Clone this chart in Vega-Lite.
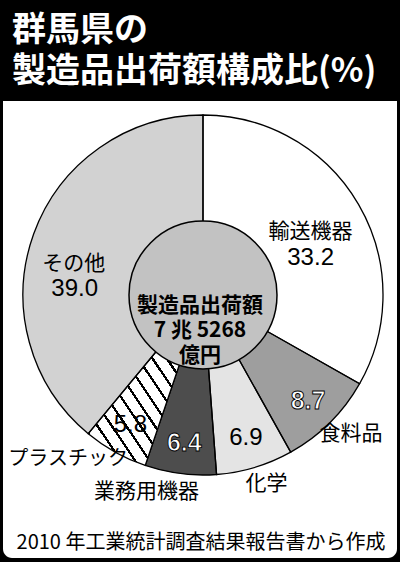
{
  "$schema": "https://vega.github.io/schema/vega-lite/v6.json",
  "autosize": "none",
  "width": 394,
  "height": 457,
  "padding": {"left": 3, "top": 101, "right": 3, "bottom": 4},
  "background": "black",
  "config": {
    "view": {"stroke": null},
    "text": {"font": "Noto Sans CJK JP"}
  },
  "title": {
    "text": ["群馬県の", "製造品出荷額構成比(%)"],
    "anchor": "start",
    "frame": "group",
    "color": "white",
    "font": "Noto Sans CJK JP",
    "fontSize": 34,
    "fontWeight": "bold",
    "lineHeight": 41,
    "offset": 12,
    "dx": 9
  },
  "data": {
    "values": [
      {"name": "輸送機器", "value": 33.2, "o": 1},
      {"name": "食料品", "value": 8.7, "o": 2},
      {"name": "化学", "value": 6.9, "o": 3},
      {"name": "業務用機器", "value": 6.4, "o": 4},
      {"name": "プラスチック", "value": 5.8, "o": 5},
      {"name": "その他", "value": 39.0, "o": 6}
    ]
  },
  "layer": [
    {
      "data": {"values": [{"panel": "panel"}]},
      "mark": {"type": "rect", "fill": "white", "cornerRadiusBottomLeft": 9, "cornerRadiusBottomRight": 9},
      "encoding": {}
    },
    {
      "mark": {"type": "arc", "outerRadius": 180, "xOffset": 3, "yOffset": -34.5},
      "encoding": {
        "theta": {"field": "value", "type": "quantitative", "stack": true},
        "order": {"field": "o", "type": "quantitative"},
        "color": {
          "field": "name",
          "type": "nominal",
          "scale": {
            "domain": ["輸送機器", "食料品", "化学", "業務用機器", "プラスチック", "その他"],
            "range": ["#ffffff", "#9e9e9e", "#e4e4e4", "#4d4d4d", "#ffffff", "#d2d2d2"]
          },
          "legend": null
        }
      }
    },
    {
      "mark": {
        "type": "arc",
        "outerRadius": 180,
        "xOffset": 3,
        "yOffset": -34.5,
        "stroke": "black",
        "strokeWidth": 1.3,
        "fill": {
          "gradient": "linear",
          "x1": 0, "y1": 1, "x2": 1, "y2": 0,
          "stops": [
            {"offset": 0, "color": "white"},
            {"offset": 0.025, "color": "white"}, {"offset": 0.025, "color": "black"}, {"offset": 0.037, "color": "black"}, {"offset": 0.037, "color": "white"},
            {"offset": 0.0875, "color": "white"}, {"offset": 0.0875, "color": "black"}, {"offset": 0.0995, "color": "black"}, {"offset": 0.0995, "color": "white"},
            {"offset": 0.15, "color": "white"}, {"offset": 0.15, "color": "black"}, {"offset": 0.162, "color": "black"}, {"offset": 0.162, "color": "white"},
            {"offset": 0.2125, "color": "white"}, {"offset": 0.2125, "color": "black"}, {"offset": 0.2245, "color": "black"}, {"offset": 0.2245, "color": "white"},
            {"offset": 0.275, "color": "white"}, {"offset": 0.275, "color": "black"}, {"offset": 0.287, "color": "black"}, {"offset": 0.287, "color": "white"},
            {"offset": 0.3375, "color": "white"}, {"offset": 0.3375, "color": "black"}, {"offset": 0.3495, "color": "black"}, {"offset": 0.3495, "color": "white"},
            {"offset": 0.4, "color": "white"}, {"offset": 0.4, "color": "black"}, {"offset": 0.412, "color": "black"}, {"offset": 0.412, "color": "white"},
            {"offset": 0.4625, "color": "white"}, {"offset": 0.4625, "color": "black"}, {"offset": 0.4745, "color": "black"}, {"offset": 0.4745, "color": "white"},
            {"offset": 0.525, "color": "white"}, {"offset": 0.525, "color": "black"}, {"offset": 0.537, "color": "black"}, {"offset": 0.537, "color": "white"},
            {"offset": 0.5875, "color": "white"}, {"offset": 0.5875, "color": "black"}, {"offset": 0.5995, "color": "black"}, {"offset": 0.5995, "color": "white"},
            {"offset": 0.65, "color": "white"}, {"offset": 0.65, "color": "black"}, {"offset": 0.662, "color": "black"}, {"offset": 0.662, "color": "white"},
            {"offset": 0.7125, "color": "white"}, {"offset": 0.7125, "color": "black"}, {"offset": 0.7245, "color": "black"}, {"offset": 0.7245, "color": "white"},
            {"offset": 0.775, "color": "white"}, {"offset": 0.775, "color": "black"}, {"offset": 0.787, "color": "black"}, {"offset": 0.787, "color": "white"},
            {"offset": 0.8375, "color": "white"}, {"offset": 0.8375, "color": "black"}, {"offset": 0.8495, "color": "black"}, {"offset": 0.8495, "color": "white"},
            {"offset": 0.9, "color": "white"}, {"offset": 0.9, "color": "black"}, {"offset": 0.912, "color": "black"}, {"offset": 0.912, "color": "white"},
            {"offset": 0.9625, "color": "white"}, {"offset": 0.9625, "color": "black"}, {"offset": 0.9745, "color": "black"}, {"offset": 0.9745, "color": "white"},
            {"offset": 1, "color": "white"}
          ]
        }
      },
      "encoding": {
        "theta": {"field": "value", "type": "quantitative", "stack": true},
        "order": {"field": "o", "type": "quantitative"},
        "fillOpacity": {"condition": {"test": "datum.name === 'プラスチック'", "value": 1}, "value": 0}
      }
    },
    {
      "data": {"values": [{"total": "製造品出荷額\n7 兆 5268\n億円"}]},
      "mark": {"type": "arc", "outerRadius": 74, "xOffset": 3, "yOffset": -34.5, "fill": "#c2c2c2", "stroke": "black", "strokeWidth": 1.5},
      "encoding": {}
    },
    {
      "data": {"values": [{"total": "製造品出荷額\n7 兆 5268\n億円"}]},
      "mark": {"type": "text", "xOffset": 3, "yOffset": -34.5, "dx": -3, "dy": 11, "lineBreak": "\n", "fontSize": 21, "fontWeight": "bold", "lineHeight": 25, "baseline": "middle", "align": "center", "color": "black"},
      "encoding": {"text": {"field": "total", "type": "nominal"}}
    },
    {
      "mark": {"type": "text", "radius": 149, "xOffset": 3, "yOffset": -34.5, "fontSize": 24, "font": "Liberation Sans", "baseline": "middle", "color": "black"},
      "encoding": {
        "theta": {"field": "value", "type": "quantitative", "stack": true},
        "order": {"field": "o", "type": "quantitative"},
        "text": {"condition": {"test": "datum.name === '化学' || datum.name === 'プラスチック'", "field": "value", "type": "quantitative", "format": ".1f"}, "value": ""}
      }
    },
    {
      "mark": {"type": "text", "radius": 149, "xOffset": 3, "yOffset": -34.5, "fontSize": 25, "font": "Liberation Sans", "fontWeight": "bold", "baseline": "middle", "fill": "white", "stroke": "black", "strokeWidth": 0.9},
      "encoding": {
        "theta": {"field": "value", "type": "quantitative", "stack": true},
        "order": {"field": "o", "type": "quantitative"},
        "text": {"condition": {"test": "datum.name === '食料品' || datum.name === '業務用機器'", "field": "value", "type": "quantitative", "format": ".1f"}, "value": ""}
      }
    },
    {
      "mark": {"type": "text", "radius": 113, "xOffset": 3, "yOffset": -34.5, "dx": 10, "dy": -6, "fontSize": 21, "baseline": "middle", "color": "black"},
      "encoding": {
        "theta": {"field": "value", "type": "quantitative", "stack": true},
        "order": {"field": "o", "type": "quantitative"},
        "text": {"condition": {"test": "datum.name === '輸送機器'", "field": "name", "type": "nominal"}, "value": ""}
      }
    },
    {
      "mark": {"type": "text", "radius": 113, "xOffset": 3, "yOffset": -34.5, "dx": 10, "dy": 20, "fontSize": 24, "font": "Liberation Sans", "baseline": "middle", "color": "black"},
      "encoding": {
        "theta": {"field": "value", "type": "quantitative", "stack": true},
        "order": {"field": "o", "type": "quantitative"},
        "text": {"condition": {"test": "datum.name === '輸送機器'", "field": "value", "type": "quantitative", "format": ".1f"}, "value": ""}
      }
    },
    {
      "mark": {"type": "text", "radius": 113, "xOffset": 3, "yOffset": -34.5, "dx": -23, "dy": 7, "fontSize": 21, "baseline": "middle", "color": "black"},
      "encoding": {
        "theta": {"field": "value", "type": "quantitative", "stack": true},
        "order": {"field": "o", "type": "quantitative"},
        "text": {"condition": {"test": "datum.name === 'その他'", "field": "name", "type": "nominal"}, "value": ""}
      }
    },
    {
      "mark": {"type": "text", "radius": 113, "xOffset": 3, "yOffset": -34.5, "dx": -22, "dy": 32, "fontSize": 24, "font": "Liberation Sans", "baseline": "middle", "color": "black"},
      "encoding": {
        "theta": {"field": "value", "type": "quantitative", "stack": true},
        "order": {"field": "o", "type": "quantitative"},
        "text": {"condition": {"test": "datum.name === 'その他'", "field": "value", "type": "quantitative", "format": ".1f"}, "value": ""}
      }
    },
    {
      "mark": {"type": "text", "radius": 203, "xOffset": 3, "yOffset": -34.5, "dx": 5, "dy": -5, "fontSize": 21, "baseline": "middle", "color": "black"},
      "encoding": {
        "theta": {"field": "value", "type": "quantitative", "stack": true},
        "order": {"field": "o", "type": "quantitative"},
        "text": {"condition": {"test": "datum.name === '食料品' || datum.name === '化学'", "field": "name", "type": "nominal"}, "value": ""}
      }
    },
    {
      "mark": {"type": "text", "radius": 203, "xOffset": 3, "yOffset": -34.5, "dx": -31, "dy": -4, "fontSize": 21, "baseline": "middle", "color": "black"},
      "encoding": {
        "theta": {"field": "value", "type": "quantitative", "stack": true},
        "order": {"field": "o", "type": "quantitative"},
        "text": {"condition": {"test": "datum.name === '業務用機器'", "field": "name", "type": "nominal"}, "value": ""}
      }
    },
    {
      "mark": {"type": "text", "radius": 203, "xOffset": 3, "yOffset": -34.5, "dx": -36, "dy": -13, "fontSize": 20, "baseline": "middle", "color": "black"},
      "encoding": {
        "theta": {"field": "value", "type": "quantitative", "stack": true},
        "order": {"field": "o", "type": "quantitative"},
        "text": {"condition": {"test": "datum.name === 'プラスチック'", "field": "name", "type": "nominal"}, "value": ""}
      }
    },
    {
      "data": {"values": [{"note": "2010 年工業統計調査結果報告書から作成"}]},
      "mark": {"type": "text", "dx": 1, "dy": 213, "fontSize": 20, "baseline": "middle", "align": "center", "color": "black"},
      "encoding": {"text": {"field": "note", "type": "nominal"}}
    }
  ]
}
